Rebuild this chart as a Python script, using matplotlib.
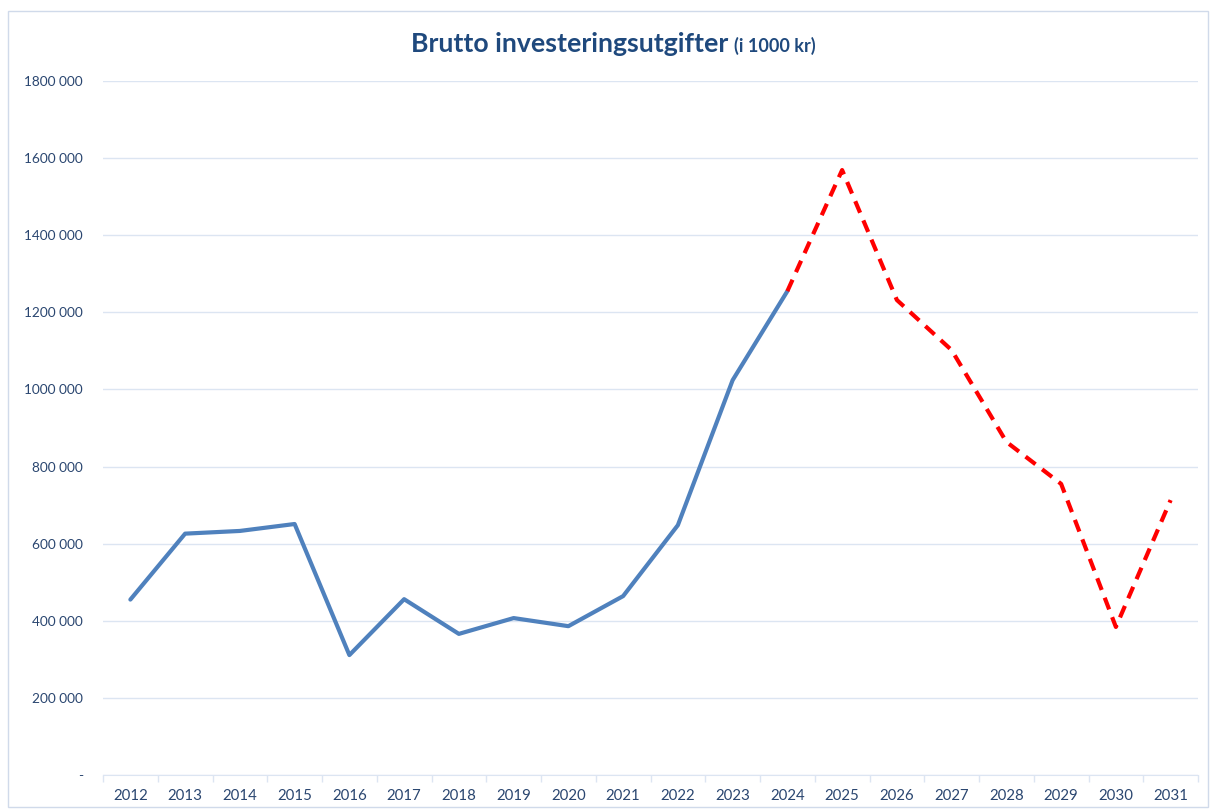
import matplotlib.pyplot as plt
from matplotlib.patches import Rectangle
from matplotlib.ticker import FuncFormatter, FixedLocator

# ---------------------------------------------------------------------------
# Data (i 1000 kr)
# ---------------------------------------------------------------------------
years = [str(y) for y in range(2012, 2032)]
actual = [455000, 626000, 633000, 651000, 311000, 456000, 366000, 407000,
          386000, 464000, 648000, 1024000, 1255000]
forecast = [1255000, 1569000, 1232000, 1102000, 864000, 755000, 384000, 713000]

TEXT = "#2A4670"
GRID = "#DCE5F2"

plt.rcParams["font.family"] = ["Lato", "DejaVu Sans"]


def fmt_thousands(v, _):
    # Excel-style "# ##0" with only the last group separated, dash for zero
    if v == 0:
        return "-"
    return f"{int(v) // 1000} {int(v) % 1000:03d}"


fig = plt.figure(figsize=(12.14, 8.09), dpi=100)
ax = fig.add_axes([103 / 1214, 1 - 775 / 809, (1198 - 103) / 1214, (775 - 81) / 809])

# outer chart border
fig.patches.append(Rectangle((8 / 1214, 2 / 809), 1200 / 1214, 796 / 809,
                             transform=fig.transFigure, fill=False,
                             edgecolor="#D0DAEA", linewidth=1))

x_act = list(range(len(actual)))
x_fc = list(range(len(actual) - 1, len(actual) - 1 + len(forecast)))

ax.plot(x_act, actual, color="#4F81BD", linewidth=3, solid_capstyle="round")
ax.plot(x_fc, forecast, color="#FF0000", linewidth=3, linestyle=(0, (3, 2)))

ax.set_xlim(-0.5, len(years) - 0.5)
ax.set_ylim(0, 1800000)
ax.set_xticks(range(len(years)))
ax.set_xticklabels(years)
ax.xaxis.set_minor_locator(FixedLocator([i - 0.5 for i in range(len(years) + 1)]))
ax.tick_params(axis="x", which="major", length=0, pad=10, labelsize=10.8, colors=TEXT)
ax.tick_params(axis="x", which="minor", length=5, color=GRID, width=1)
ax.set_yticks(range(0, 1800001, 200000))
ax.yaxis.set_major_formatter(FuncFormatter(fmt_thousands))
ax.tick_params(axis="y", length=0, pad=14.4, labelsize=9.8, colors=TEXT)

ax.grid(True, axis="y", color=GRID, linewidth=1)
ax.set_axisbelow(True)
for side in ("top", "right", "left"):
    ax.spines[side].set_visible(False)
ax.spines["bottom"].set_color(GRID)

fig.text(728 / 1214, 1 - 44 / 809, "Brutto investeringsutgifter", ha="right", va="center",
         fontsize=19.2, fontweight="bold", color="#1F497D")
fig.text(734 / 1214, 1 - 46 / 809, "(i 1000 kr)", ha="left", va="center",
         fontsize=13, fontweight="bold", color="#1F497D")

fig.savefig("out.png", dpi=100)
